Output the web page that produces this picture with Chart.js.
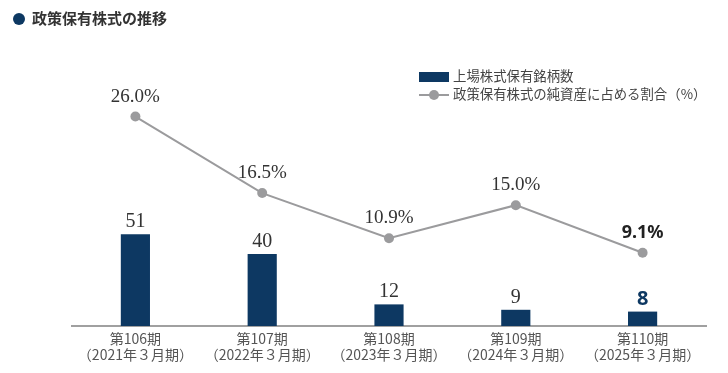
<!DOCTYPE html>
<html><head><meta charset="utf-8">
<script src="https://cdn.jsdelivr.net/npm/chart.js@4/dist/chart.umd.min.js"></script>
<style>
html,body{margin:0;padding:0;background:#fff;}
#wrap{position:relative;width:728px;height:373px;font-family:"Noto Sans CJK JP","Noto Sans",sans-serif;}
#c{position:absolute;left:0;top:0;}
.title{position:absolute;left:13px;top:7px;font-size:15px;font-weight:bold;color:#333;line-height:22px;white-space:nowrap;}
.title .dot{display:inline-block;width:12px;height:12px;border-radius:50%;background:#0d3862;vertical-align:-1px;margin-right:7px;}
.leg{position:absolute;left:419px;font-size:13.4px;color:#444;line-height:18px;white-space:nowrap;}
.leg .sw{display:inline-block;width:30px;height:10px;background:#0d3862;vertical-align:-1px;margin-right:4px;}
.leg .ln{display:inline-block;position:relative;width:30px;height:10px;vertical-align:-1px;margin-right:4px;}
.leg .ln:before{content:"";position:absolute;left:0;right:0;top:4px;height:2px;background:#9b9b9d;}
.leg .ln:after{content:"";position:absolute;left:10px;top:0;width:10px;height:10px;border-radius:50%;background:#9b9b9d;}
</style></head>
<body><div id="wrap">
<canvas id="c" width="728" height="373"></canvas>
<div class="title"><span class="dot"></span>政策保有株式の推移</div>
<div class="leg" style="top:66px"><span class="sw"></span>上場株式保有銘柄数</div>
<div class="leg" style="top:84px"><span class="ln"></span>政策保有株式の純資産に占める割合（%）</div>
</div>
<script>
const periods = ["第106期","第107期","第108期","第109期","第110期"];
const fiscalYears = ["（2021年３月期）","（2022年３月期）","（2023年３月期）","（2024年３月期）","（2025年３月期）"];
const holdingCounts = [51, 40, 12, 9, 8];
const netAssetRatio = [26.0, 16.5, 10.9, 15.0, 9.1];

const labels = periods.map((p, i) => [p, fiscalYears[i]]);
const NAVY = "#0d3862", GRAY = "#9b9b9d";

const valueLabels = {
  id: "valueLabels",
  afterDatasetsDraw(chart) {
    const ctx = chart.ctx;
    ctx.save();
    ctx.textAlign = "center";
    ctx.textBaseline = "alphabetic";
    const last = holdingCounts.length - 1;
    chart.getDatasetMeta(0).data.forEach((bar, i) => {
      if (i === last) { ctx.font = "bold 20px 'Noto Sans','Open Sans',sans-serif"; ctx.fillStyle = NAVY; }
      else { ctx.font = "20px 'Liberation Serif','DejaVu Serif',serif"; ctx.fillStyle = "#333"; }
      ctx.fillText(String(holdingCounts[i]), bar.x, bar.y - 7);
    });
    chart.getDatasetMeta(1).data.forEach((pt, i) => {
      if (i === last) { ctx.font = "bold 18px 'Noto Sans','Open Sans',sans-serif"; ctx.fillStyle = "#222"; }
      else { ctx.font = "19px 'Liberation Serif','DejaVu Serif',serif"; ctx.fillStyle = "#333"; }
      ctx.fillText(netAssetRatio[i].toFixed(1) + "%", pt.x, pt.y - 15);
    });
    ctx.restore();
  }
};

new Chart(document.getElementById("c"), {
  data: {
    labels,
    datasets: [
      { type: "bar", data: holdingCounts, backgroundColor: NAVY, yAxisID: "y",
        categoryPercentage: 1, barPercentage: 0.23, order: 2 },
      { type: "line", data: netAssetRatio, yAxisID: "y1", borderColor: GRAY, borderWidth: 2,
        pointRadius: 5, pointBackgroundColor: GRAY, pointBorderColor: GRAY, pointBorderWidth: 0, order: 1 }
    ]
  },
  options: {
    responsive: false, animation: false,
    layout: { padding: { left: 72, right: 22, top: 36, bottom: 0 } },
    plugins: { legend: { display: false }, tooltip: { enabled: false } },
    scales: {
      x: {
        grid: { display: false, drawTicks: false },
        border: { display: true, color: "#a0a0a0", width: 2 },
        ticks: { color: "#555", font: { size: 14, family: "'Noto Sans CJK JP','Liberation Serif',serif", lineHeight: 1.15 }, padding: 5, maxRotation: 0, autoSkip: false },
        afterFit(s) { s.height = 47; }
      },
      y: { display: false, min: 0, max: 161 },
      y1: { display: false, min: 0, max: 36 }
    }
  },
  plugins: [valueLabels]
});
</script>
</body></html>
